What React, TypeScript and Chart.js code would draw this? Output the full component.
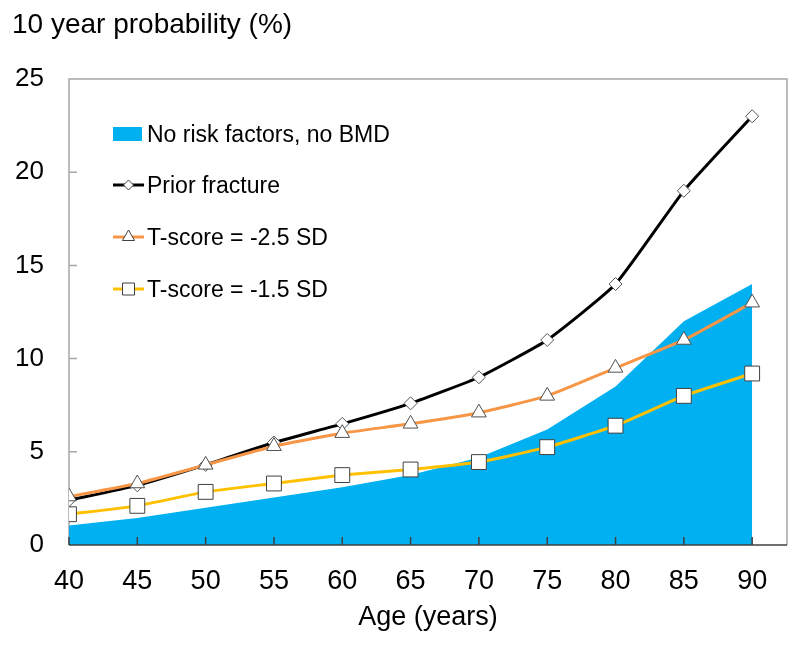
import React, { useEffect, useRef } from "react";
import { Chart, registerables } from "chart.js";

Chart.register(...registerables);

const AGES = [40, 45, 50, 55, 60, 65, 70, 75, 80, 85, 90];
const NO_RISK = [1.05, 1.45, 2.0, 2.55, 3.1, 3.75, 4.7, 6.2, 8.5, 12.0, 14.0];
const PRIOR_FRACTURE = [2.4, 3.2, 4.3, 5.5, 6.5, 7.6, 9.0, 11.0, 14.0, 19.0, 23.0];
const T_SCORE_25 = [2.6, 3.3, 4.3, 5.3, 6.0, 6.5, 7.1, 8.0, 9.5, 11.0, 13.0];
const T_SCORE_15 = [1.65, 2.1, 2.85, 3.3, 3.75, 4.05, 4.45, 5.25, 6.4, 8.0, 9.2];
const Y_TICKS = [0, 5, 10, 15, 20, 25];
const LABELS = ["No risk factors, no BMD", "Prior fracture", "T-score = -2.5 SD", "T-score = -1.5 SD"];
const Y_TITLE = "10 year probability (%)";
const X_TITLE = "Age (years)";

const FONT = "'Liberation Sans', Arial, sans-serif";
const BLUE = "#00B0F0";
const BLACK = "#000000";
const ORANGE = "#F79646";
const YELLOW = "#FFC000";
const MARKER_BORDER = "#404040";

function pts(vals: number[]) {
  return AGES.map((a, i) => ({ x: a, y: vals[i] }));
}

function drawMarker(ctx: CanvasRenderingContext2D, kind: string, x: number, y: number, r: number) {
  ctx.beginPath();
  if (kind === "diamond") {
    ctx.moveTo(x - r, y);
    ctx.lineTo(x, y - r);
    ctx.lineTo(x + r, y);
    ctx.lineTo(x, y + r);
    ctx.closePath();
  } else if (kind === "triangle") {
    const h = r * 1.5;
    const s = r * Math.sqrt(3) / 2;
    ctx.moveTo(x, y - r);
    ctx.lineTo(x + s, y + h - r);
    ctx.lineTo(x - s, y + h - r);
    ctx.closePath();
  } else {
    ctx.rect(x - r, y - r, 2 * r, 2 * r);
  }
  ctx.fillStyle = "#FFFFFF";
  ctx.fill();
  ctx.strokeStyle = MARKER_BORDER;
  ctx.lineWidth = 1;
  ctx.stroke();
}

const decorPlugin = {
  id: "decor",
  beforeDatasetsDraw(chart: any) {
    const { ctx, chartArea: a, scales } = chart;
    const y = scales.y;
    ctx.save();
    ctx.strokeStyle = "#A6A6A6";
    ctx.lineWidth = 1.5;
    ctx.beginPath();
    ctx.moveTo(a.left, a.bottom);
    ctx.lineTo(a.left, a.top);
    ctx.lineTo(a.right, a.top);
    ctx.lineTo(a.right, a.bottom);
    ctx.stroke();
    ctx.beginPath();
    for (const v of Y_TICKS) {
      if (v === 0 || v === 25) continue;
      const py = y.getPixelForValue(v);
      ctx.moveTo(a.left, py);
      ctx.lineTo(a.left + 8, py);
    }
    ctx.stroke();
    ctx.restore();
  },
  afterDatasetsDraw(chart: any) {
    const { ctx, chartArea: a, scales } = chart;
    const x = scales.x;
    ctx.save();
    ctx.strokeStyle = "#404040";
    ctx.lineWidth = 1.5;
    ctx.beginPath();
    ctx.moveTo(a.left, a.bottom);
    ctx.lineTo(a.right, a.bottom);
    for (const age of AGES) {
      const px = x.getPixelForValue(age);
      ctx.moveTo(px, a.bottom);
      ctx.lineTo(px, a.bottom - 8);
    }
    ctx.stroke();
    ctx.restore();
  },
  afterDraw(chart: any) {
    const { ctx, chartArea: a } = chart;
    ctx.save();
    ctx.fillStyle = "#000000";
    ctx.textBaseline = "alphabetic";
    ctx.font = `28px ${FONT}`;
    ctx.textAlign = "left";
    ctx.fillText(Y_TITLE, 12, 33);
    ctx.font = `27px ${FONT}`;
    ctx.textAlign = "center";
    ctx.fillText(X_TITLE, (a.left + a.right) / 2, 625);

    // legend
    const ds = chart.data.datasets;
    const baselines = [142, 193, 245, 297];
    ctx.font = `23px ${FONT}`;
    ctx.textAlign = "left";
    for (let i = 0; i < 4; i++) {
      const d = ds[i];
      const cy = baselines[i] - 8;
      if (i === 0) {
        ctx.fillStyle = d.backgroundColor;
        ctx.fillRect(113, cy - 7, 29, 14);
      } else {
        ctx.strokeStyle = d.borderColor;
        ctx.lineWidth = 3;
        ctx.beginPath();
        ctx.moveTo(113, cy);
        ctx.lineTo(144, cy);
        ctx.stroke();
        const kind = i === 1 ? "diamond" : i === 2 ? "triangle" : "square";
        drawMarker(ctx, kind, 128.5, cy, kind === "diamond" ? 5 : kind === "triangle" ? 7 : 6);
      }
      ctx.fillStyle = "#000000";
      ctx.fillText(LABELS[i], 147, baselines[i]);
    }
    ctx.restore();
  },
};

export default function App() {
  const ref = useRef<HTMLCanvasElement>(null);
  useEffect(() => {
    if (!ref.current) return;
    const chart = new Chart(ref.current, {
      type: "line",
      data: {
        datasets: [
          {
            label: LABELS[0],
            data: pts(NO_RISK),
            backgroundColor: BLUE,
            borderColor: BLUE,
            borderWidth: 0,
            fill: "origin",
            pointRadius: 0,
            tension: 0,
            order: 4,
          },
          {
            label: LABELS[1],
            data: pts(PRIOR_FRACTURE),
            borderColor: BLACK,
            borderWidth: 3,
            pointStyle: "rectRot",
            pointRadius: 6.5,
            pointBackgroundColor: "#FFFFFF",
            pointBorderColor: "#555555",
            pointBorderWidth: 1,
            fill: false,
            tension: 0.15,
            order: 3,
          },
          {
            label: LABELS[2],
            data: pts(T_SCORE_25),
            borderColor: ORANGE,
            borderWidth: 3,
            pointStyle: "triangle",
            pointRadius: 8.5,
            pointBackgroundColor: "#FFFFFF",
            pointBorderColor: "#505050",
            pointBorderWidth: 1,
            fill: false,
            tension: 0.15,
            order: 2,
          },
          {
            label: LABELS[3],
            data: pts(T_SCORE_15),
            borderColor: YELLOW,
            borderWidth: 3,
            pointStyle: "rect",
            pointRadius: 10.5,
            pointBackgroundColor: "#FFFFFF",
            pointBorderColor: MARKER_BORDER,
            pointBorderWidth: 1,
            fill: false,
            tension: 0.15,
            order: 1,
          },
        ],
      },
      options: {
        animation: false,
        responsive: false,
        maintainAspectRatio: false,
        layout: { padding: { top: 79, right: 13, left: 0, bottom: 0 } },
        plugins: { legend: { display: false }, tooltip: { enabled: false } },
        scales: {
          x: {
            type: "linear",
            min: 40,
            max: 92.55,
            grid: { display: false, drawTicks: false },
            border: { display: false },
            afterFit: (s: any) => {
              s.height = 100;
            },
            ticks: {
              stepSize: 5,
              includeBounds: false,
              autoSkip: false,
              maxRotation: 0,
              padding: 20,
              color: "#000000",
              font: { family: FONT, size: 27 },
              callback: (v: any) => (AGES.includes(Number(v)) ? String(v) : ""),
            },
          },
          y: {
            min: 0,
            max: 25,
            grid: { display: false, drawTicks: false },
            border: { display: false },
            afterFit: (s: any) => {
              s.width = 69;
            },
            afterBuildTicks: (s: any) => {
              s.ticks = Y_TICKS.map((v) => ({ value: v }));
            },
            ticks: {
              padding: 25,
              color: "#000000",
              font: { family: FONT, size: 26 },
            },
          },
        },
      },
      plugins: [decorPlugin],
    });
    return () => chart.destroy();
  }, []);
  return (
    <div style={{ position: "fixed", left: 0, top: 0, width: 800, height: 645, background: "#fff" }}>
      <canvas ref={ref} width={800} height={645} style={{ width: 800, height: 645 }} />
    </div>
  );
}
